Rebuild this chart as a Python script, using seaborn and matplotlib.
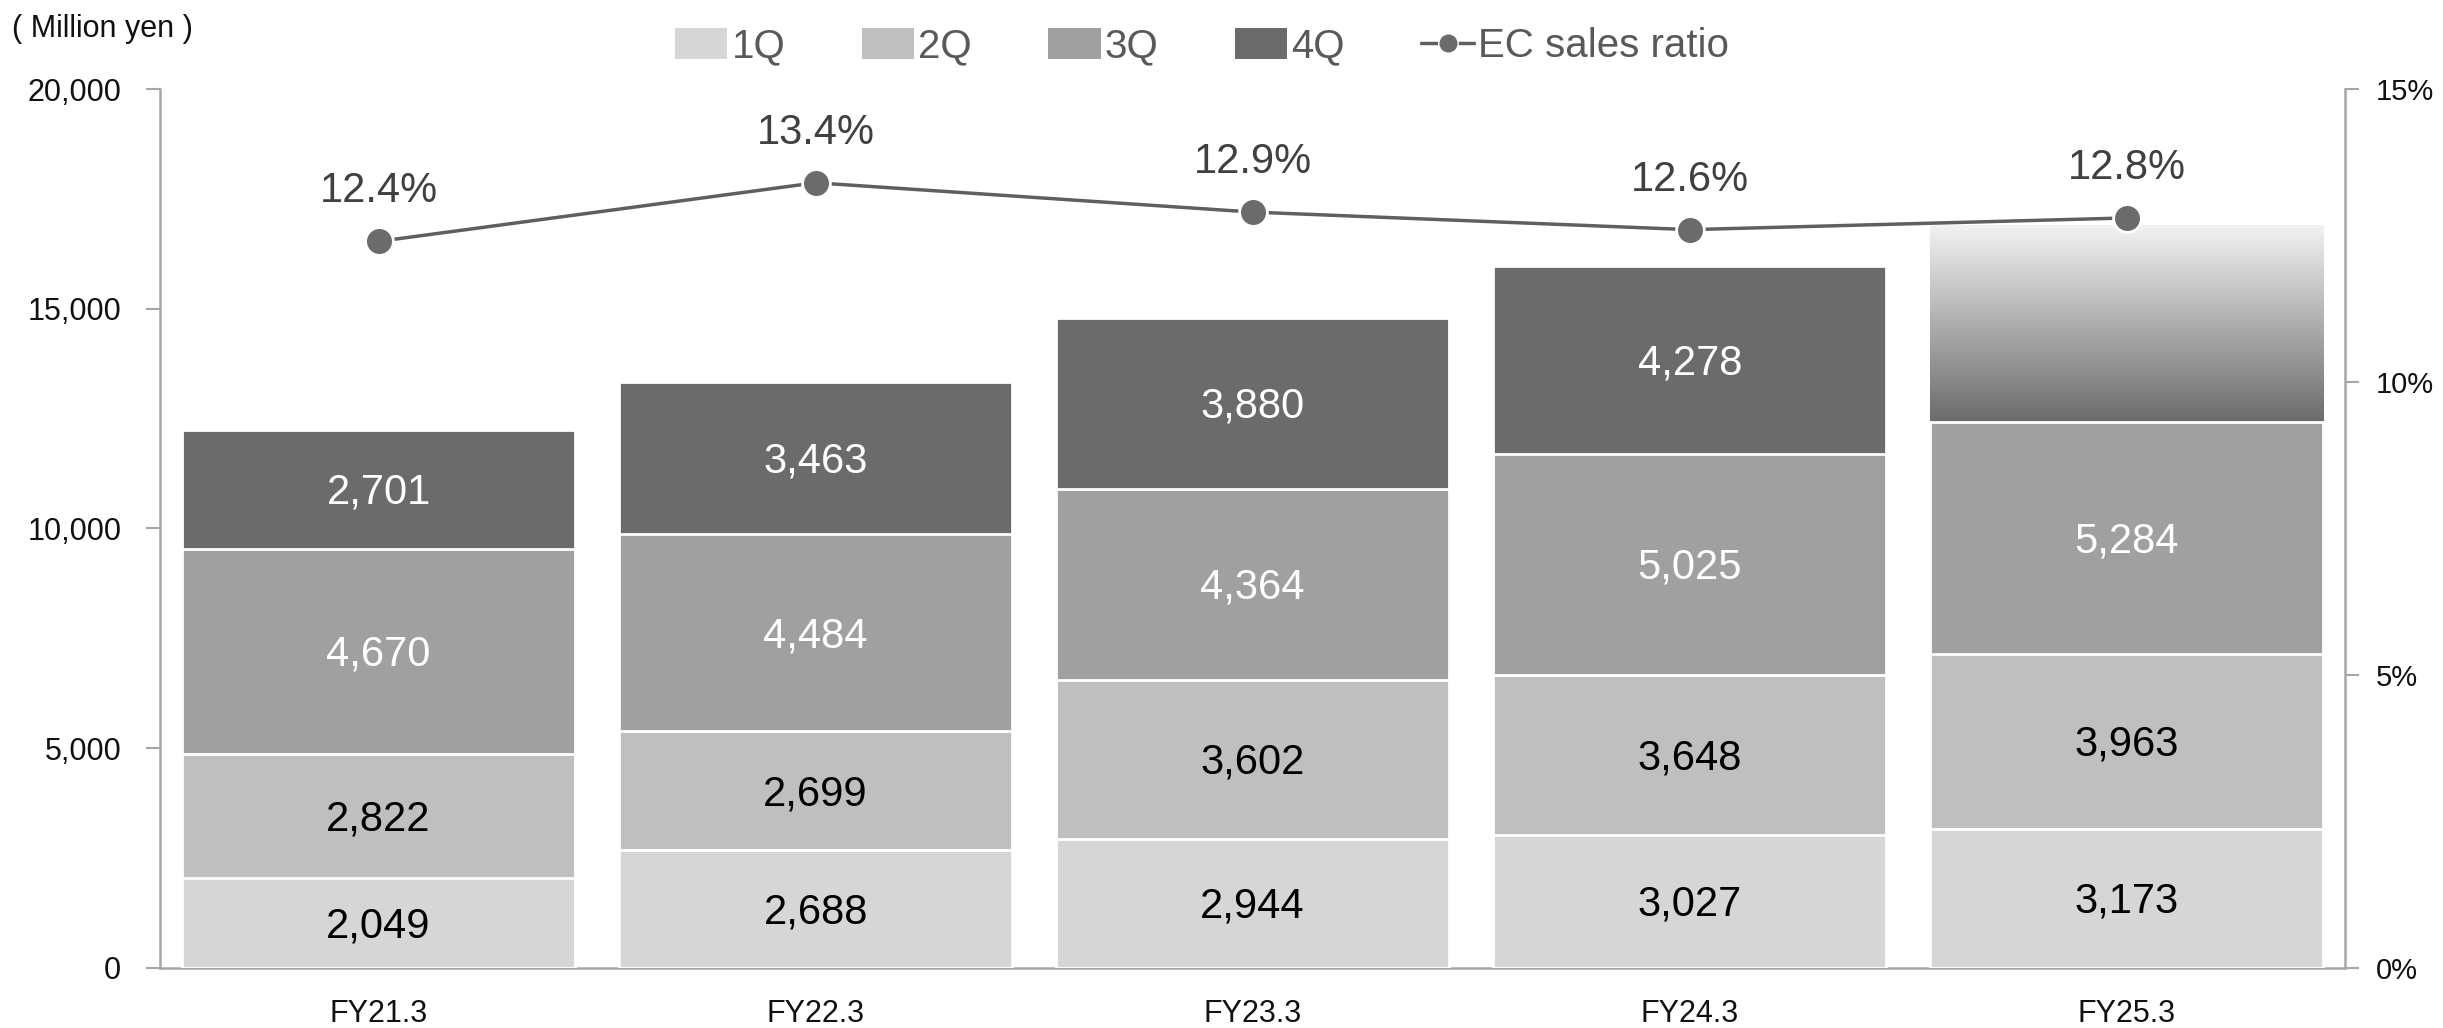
import numpy as np
import pandas as pd
import matplotlib
matplotlib.use("Agg")
import matplotlib.pyplot as plt
import seaborn as sns
from matplotlib.patches import Patch
from matplotlib.lines import Line2D
from matplotlib.colors import LinearSegmentedColormap

# ---------------- data ----------------
years = ["FY21.3", "FY22.3", "FY23.3", "FY24.3", "FY25.3"]
q1 = [2049, 2688, 2944, 3027, 3173]
q2 = [2822, 2699, 3602, 3648, 3963]
q3 = [4670, 4484, 4364, 5025, 5284]
q4 = [2701, 3463, 3880, 4278, 4460]          # last one is a forecast (gradient, no label)
q4_labels = ["2,701", "3,463", "3,880", "4,278", None]
ec_ratio = [12.4, 13.4, 12.9, 12.6, 12.8]
quarter_names = ["1Q", "2Q", "3Q", "4Q"]
quarter_colors = ["#d6d6d6", "#bfbfbf", "#a0a0a0", "#6b6b6b"]
label_colors = ["#000000", "#000000", "#ffffff", "#ffffff"]

sns.set_theme(style="white")
plt.rcParams["font.family"] = ["Liberation Sans", "DejaVu Sans"]

fig = plt.figure(figsize=(24.43, 10.28), dpi=100)
ax = fig.add_axes([0.0655, 0.0584, 0.8945, 0.855])

layers = [q1, q2, q3, q4]
cum = np.cumsum(np.array(layers), axis=0)  # cumulative per layer
df = pd.DataFrame({"year": years})
for i, name in enumerate(quarter_names):
    df[name + "_cum"] = cum[i]

# draw back to front: cumulative 4Q first
bar_containers = {}
for i in range(3, -1, -1):
    sns.barplot(data=df, x="year", y=quarter_names[i] + "_cum", ax=ax,
                color=quarter_colors[i], saturation=1, width=0.9,
                edgecolor="white", linewidth=2.0, zorder=2 + (3 - i))
    bar_containers[i] = ax.containers[-1]

# gradient for the forecast 4Q segment of the last year
last_patch = bar_containers[3].patches[-1]
last_patch.set_facecolor("none")
last_patch.set_edgecolor("none")
x0 = last_patch.get_x()
w = last_patch.get_width()
top = last_patch.get_height()
bottom = cum[2][-1]
cmap = LinearSegmentedColormap.from_list("g", ["#6b6b6b", "#f2f2f2"])
grad = np.linspace(0, 1, 256).reshape(-1, 1)
ax.imshow(grad, cmap=cmap, aspect="auto", origin="lower",
          extent=[x0, x0 + w, bottom, top], zorder=2.5, interpolation="bicubic")

# segment labels
for i in range(4):
    bottoms = cum[i] - np.array(layers[i])
    for j in range(len(years)):
        if i == 3:
            txt = q4_labels[j]
        else:
            txt = f"{layers[i][j]:,}"
        if txt is None:
            continue
        ax.text(j, bottoms[j] + layers[i][j] / 2 - 80, txt, ha="center", va="center",
                fontsize=30, color=label_colors[i], zorder=10)

ax.set_xlim(-0.5, len(years) - 0.5)
ax.set_ylim(0, 20000)
ax.set_yticks([0, 5000, 10000, 15000, 20000])
ax.set_yticklabels([f"{v:,}" for v in [0, 5000, 10000, 15000, 20000]], fontsize=22, color="#111111")
ax.set_xlabel("")
ax.set_ylabel("")
ax.tick_params(axis="x", length=0, labelsize=22, labelcolor="#111111", pad=22)
ax.set_xticks(np.arange(-0.5, len(years)), minor=True)
ax.tick_params(axis="x", which="minor", length=10, color="#a6a6a6", width=1.5, direction="out")
ax.tick_params(axis="y", length=10, color="#a6a6a6", width=1.5, direction="out", pad=18)
for s in ["top", "right"]:
    ax.spines[s].set_visible(False)
for s in ["left", "bottom"]:
    ax.spines[s].set_color("#a6a6a6")
    ax.spines[s].set_linewidth(1.8)

# secondary axis: EC sales ratio
ax2 = ax.twinx()
ax2.set_position(ax.get_position())
line_df = pd.DataFrame({"pos": np.arange(len(years)), "ratio": ec_ratio})
sns.lineplot(data=line_df, x="pos", y="ratio", ax=ax2, color="#5f5f5f", linewidth=2.5,
             marker="o", markersize=20, markerfacecolor="#6b6b6b",
             markeredgecolor="white", markeredgewidth=2, zorder=12)
ax2.set_ylim(0, 15)
ax2.set_yticks([0, 5, 10, 15])
ax2.set_yticklabels(["0%", "5%", "10%", "15%"], fontsize=21, color="#111111")
ax2.set_ylabel("")
ax2.set_xlabel("")
ax2.set_xlim(-0.5, len(years) - 0.5)
ax2.tick_params(axis="y", length=10, color="#a6a6a6", width=1.5, direction="out", pad=12)
for s in ["top", "left", "bottom"]:
    ax2.spines[s].set_visible(False)
ax2.spines["right"].set_color("#a6a6a6")
ax2.spines["right"].set_linewidth(1.8)
for j, v in enumerate(ec_ratio):
    ax2.annotate(f"{v:.1f}%", (j, v), xytext=(0, 36), textcoords="offset points",
                 ha="center", va="center", fontsize=30, color="#404040", zorder=13)

# legend
handles = [Patch(facecolor=c, edgecolor="none") for c in quarter_colors]
handles.append(Line2D([0], [0], color="#5f5f5f", linewidth=2.5, marker="o", markersize=14,
                      markerfacecolor="#6b6b6b", markeredgecolor="white"))
labels = quarter_names + ["EC sales ratio"]
fig.legend(handles, labels, loc="center", bbox_to_anchor=(0.492, 0.955), ncol=5,
           frameon=False, fontsize=29, labelcolor="#595959", handlelength=1.3,
           handleheight=0.8, handletextpad=0.1, columnspacing=1.9)

fig.text(0.005, 0.972, "( Million yen )", fontsize=22, color="#111111", ha="left", va="center")

fig.savefig("out.png", dpi=100)
